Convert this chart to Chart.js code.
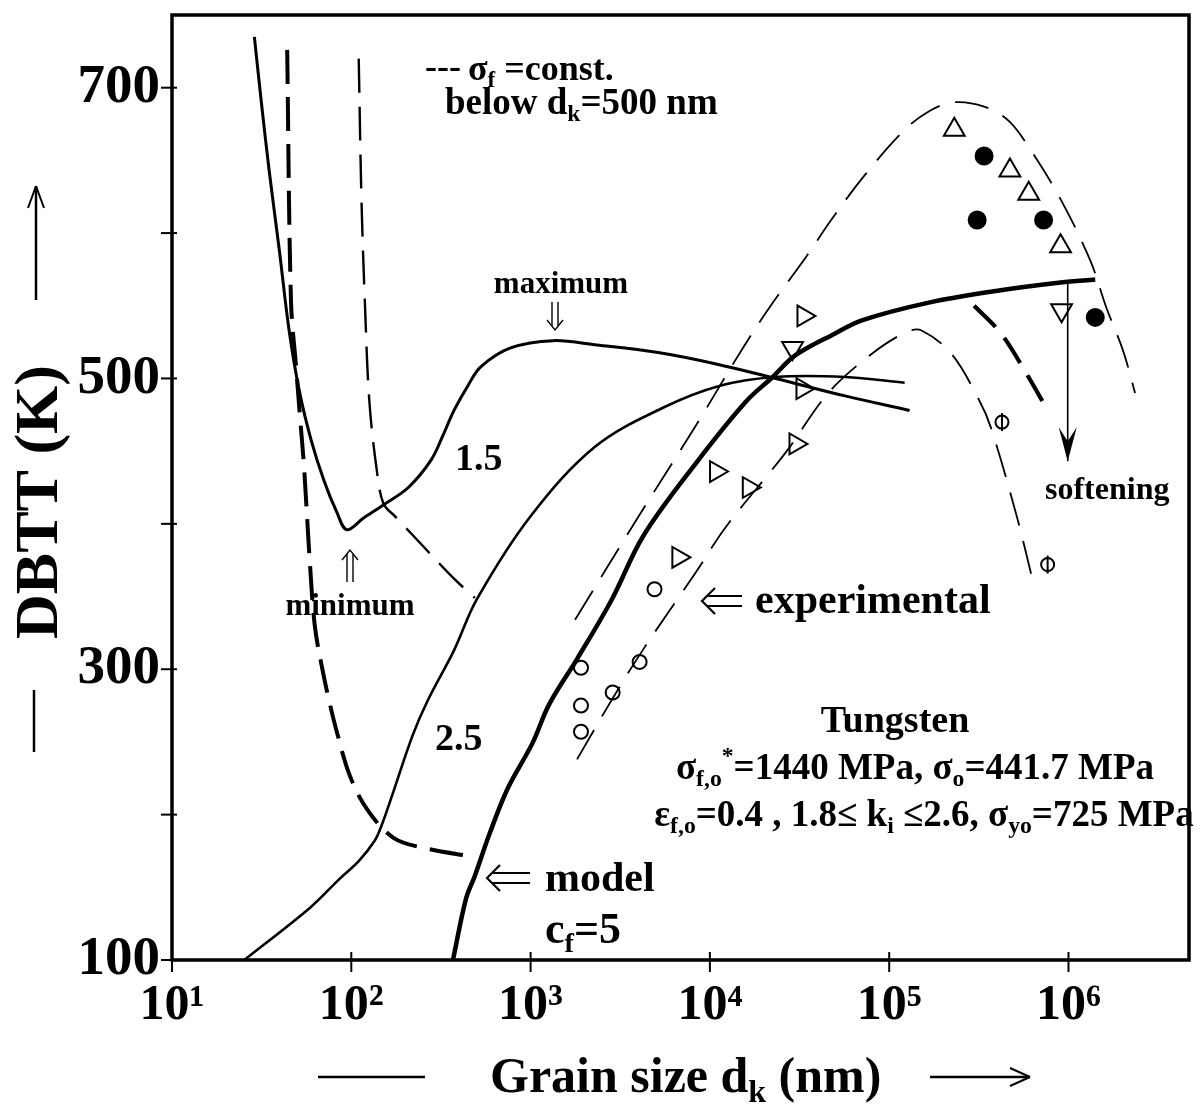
<!DOCTYPE html>
<html>
<head>
<meta charset="utf-8">
<script src="https://cdn.jsdelivr.net/npm/chart.js@4.4.1/dist/chart.umd.min.js"></script>
<style>
  html, body { margin: 0; padding: 0; background: #fff; }
  #wrap { width: 1203px; height: 1106px; }
</style>
</head>
<body>
<div id="wrap"><canvas id="c" width="1203" height="1106"></canvas></div>
<script>
// Grain size d_k in nm, DBTT in K.

// Model curve, k = 1.5
const k15Size = [28.8, 31.5, 34.9, 39.7, 45.0, 51.2, 59.6, 70.3, 83.0, 94.4, 117, 151, 208, 279, 325, 374, 447, 527, 773, 1337, 2344, 5039, 10820, 23270, 56730, 130000];
const k15Temp = [735, 690, 642, 588, 533, 492, 458, 430, 408, 396, 404, 413, 425, 444, 461, 478, 495, 508, 521, 526, 523, 518, 510, 500, 488, 478];

// Model curve, k = 2.5
const k25Size = [25.3, 58.9, 86.3, 110, 135, 147, 172, 219, 268, 374, 501, 997, 2286, 5508, 11400, 23270, 56730, 122000];
const k25Temp = [100, 136, 156, 168, 182, 192, 216, 254, 279, 313, 348, 405, 453, 480, 495, 501, 501, 497];

// Model curve, c_f = 5
const cf5Size = [369, 436, 489, 591, 745, 1023, 1271, 1815, 2838, 4266, 8390, 15860, 22390, 30020, 49950, 70460, 163700, 384400, 903000, 1410000];
const cf5Temp = [100, 142, 158, 187, 218, 249, 276, 307, 348, 392, 442, 484, 501, 516, 531, 540, 552, 560, 566, 568];

// sigma_f = const. below d_k = 500 nm (heavy dashes)
const constHeavySize = [43.9, 46.1, 49.2, 51.8, 54.5, 58.9, 62.7, 69.5, 75.0, 83.0, 98.0, 122, 172, 255, 476];
const constHeavyTemp = [726, 553, 508, 473, 439, 371, 329, 298, 279, 257, 227, 204, 184, 177, 171];

// sigma_f = const. branch of the k = 1.5 / 2.5 curves
const constMedSize = [110, 114, 119, 126, 138, 151, 176, 268, 369, 489];
const constMedTemp = [720, 622, 553, 485, 439, 414, 405, 381, 363, 349];

// softening branch (heavy dashes)
const softSize = [297700, 420000, 585000, 774000];
const softTemp = [550, 531, 503, 477];

// experimental trend lines (thin dashes)
const trendUpperSize = [1770, 3903, 8390, 15280, 21830, 34120, 48100, 73230, 122000, 167900, 230700, 338100, 465700, 623300, 915000, 1324000, 1623000, 2017000, 2351000];
const trendUpperTemp = [334, 403, 468, 521, 550, 583, 610, 640, 671, 684, 690, 687, 677, 656, 622, 581, 549, 519, 490];
const trendLowerSize = [1815, 2838, 4266, 8390, 12300, 26430, 45700, 80100, 125100, 151600, 222200, 317600, 369700, 515100, 623300];
const trendLowerTemp = [238, 279, 314, 367, 398, 449, 490, 517, 532, 533, 517, 485, 466, 405, 364];

// experimental points
const circleSize = [1910, 1910, 1910, 2870, 4055, 4910];
const circleTemp = [301, 275, 257, 284, 305, 355];
const barCircleSize = [425600, 765000];
const barCircleTemp = [470, 372];
const triRightSize = [33260, 32830, 30020, 16480, 10820, 6670];
const triRightTemp = [543, 493, 455, 425, 436, 377];
const triDownSize = [28910, 915000];
const triDownTemp = [521, 547];
const triUpSize = [230700, 471300, 600000, 903000];
const triUpTemp = [671, 643, 627, 591];
const dotSize = [338100, 309500, 726200, 1410000];
const dotTemp = [653, 609, 609, 542];

// softening arrow
const arrowSize = [990000, 990000];
const arrowTemp = [565, 443];

// axis ticks
const xTickValues = [1e1, 1e2, 1e3, 1e4, 1e5, 1e6];
const xTickLabels = ['10\u00B9', '10\u00B2', '10\u00B3', '10\u2074', '10\u2075', '10\u2076'];
const yTickValues = [100, 200, 300, 400, 500, 600, 700];
const yTickLabels = ['100', '', '300', '', '500', '', '700'];

const pts = (xs, ys) => xs.map((v, i) => ({ x: v, y: ys[i] }));
const SERIF = '"Liberation Serif", "Times New Roman", "DejaVu Serif", serif';

function lineSet(xs, ys, width, dash, tension) {
  return {
    data: pts(xs, ys), showLine: true, borderColor: '#000', borderWidth: width,
    borderDash: dash || [], pointRadius: 0, tension: tension === undefined ? 0.35 : tension,
    borderCapStyle: 'butt', fill: false
  };
}
function markSet(xs, ys, style, radius, rotation, filled, width) {
  return {
    data: pts(xs, ys), showLine: false, pointStyle: style, pointRadius: radius,
    rotation: rotation, borderColor: '#000', pointBorderWidth: width || 2,
    backgroundColor: filled ? '#000' : 'rgba(0,0,0,0)',
    pointBackgroundColor: filled ? '#000' : 'rgba(0,0,0,0)'
  };
}

// write a line of text with sub/superscript parts: [text, kind], kind '' | 'sub' | 'sup'
function rich(ctx, x, y, parts, size, align) {
  const widths = [];
  let total = 0;
  parts.forEach(([t, k]) => {
    const s = k ? size * 0.64 : size;
    ctx.font = `bold ${s}px ${SERIF}`;
    const w = ctx.measureText(t).width;
    widths.push(w); total += w;
  });
  let cx = align === 'center' ? x - total / 2 : (align === 'right' ? x - total : x);
  ctx.textAlign = 'left';
  ctx.textBaseline = 'alphabetic';
  parts.forEach(([t, k], i) => {
    const s = k ? size * 0.64 : size;
    ctx.font = `bold ${s}px ${SERIF}`;
    const dy = k === 'sub' ? size * 0.2 : (k === 'sup' ? -size * 0.42 : 0);
    ctx.fillText(t, cx, y + dy);
    cx += widths[i];
  });
}

function seg(ctx, x1, y1, x2, y2) {
  ctx.beginPath(); ctx.moveTo(x1, y1); ctx.lineTo(x2, y2); ctx.stroke();
}

// open double-shafted arrow pointing left, tip at (x, y)
function dblLeft(ctx, x, y, len) {
  seg(ctx, x + 6, y - 5, x + len, y - 5);
  seg(ctx, x + 6, y + 5, x + len, y + 5);
  ctx.beginPath();
  ctx.moveTo(x + 13, y - 13); ctx.lineTo(x, y); ctx.lineTo(x + 13, y + 13);
  ctx.stroke();
}
// thin double-shafted vertical arrow, tip at (x, y), dir -1 up / +1 down
function dblVert(ctx, x, y, len, dir) {
  seg(ctx, x - 3, y - dir * 4, x - 3, y - dir * len);
  seg(ctx, x + 3, y - dir * 4, x + 3, y - dir * len);
  ctx.beginPath();
  ctx.moveTo(x - 8, y - dir * 10); ctx.lineTo(x, y); ctx.lineTo(x + 8, y - dir * 10);
  ctx.stroke();
}

const decor = {
  id: 'decor',
  afterDraw(chart) {
    const { ctx, chartArea: a, scales: { x, y } } = chart;
    ctx.save();
    ctx.strokeStyle = '#000';
    ctx.fillStyle = '#000';
    ctx.setLineDash([]);

    // frame
    ctx.lineWidth = 3.5;
    ctx.strokeRect(a.left, a.top, a.right - a.left, a.bottom - a.top);

    // tick marks
    ctx.lineWidth = 2;
    yTickValues.forEach(v => { const py = y.getPixelForValue(v); seg(ctx, a.left - 11, py, a.left + 5, py); });
    xTickValues.forEach(v => { const px = x.getPixelForValue(v); seg(ctx, px, a.bottom - 8, px, a.bottom + 12); });

    // softening arrow head
    const ax = x.getPixelForValue(arrowSize[1]);
    const ay = y.getPixelForValue(arrowTemp[1]);
    ctx.beginPath();
    ctx.moveTo(ax, ay);
    ctx.lineTo(ax - 9, ay - 34);
    ctx.lineTo(ax, ay - 20);
    ctx.lineTo(ax + 9, ay - 34);
    ctx.closePath();
    ctx.fill();

    // y axis title
    ctx.save();
    ctx.translate(57, 502);
    ctx.rotate(-Math.PI / 2);
    ctx.font = `bold 62px ${SERIF}`;
    ctx.textAlign = 'center';
    ctx.textBaseline = 'alphabetic';
    ctx.fillText('DBTT (K)', 0, 0);
    ctx.restore();
    ctx.lineWidth = 2.5;
    seg(ctx, 34, 690, 34, 752);
    seg(ctx, 36, 300, 36, 186);
    ctx.lineWidth = 2;
    seg(ctx, 36, 186, 28, 208);
    seg(ctx, 36, 186, 44, 208);

    // x axis title
    ctx.lineWidth = 2.5;
    seg(ctx, 318, 1077, 425, 1077);
    rich(ctx, 490, 1092, [['Grain size d', ''], ['k', 'sub'], [' (nm)', '']], 50, 'left');
    seg(ctx, 930, 1077, 1030, 1077);
    ctx.lineWidth = 2;
    seg(ctx, 1030, 1077, 1010, 1068);
    seg(ctx, 1030, 1077, 1010, 1086);

    // annotations
    rich(ctx, 425, 78, [['---', '']], 36, 'left');
    rich(ctx, 468, 80, [['\u03C3', ''], ['f', 'sub'], [' =const.', '']], 36, 'left');
    rich(ctx, 445, 114, [['below d', ''], ['k', 'sub'], ['=500 nm', '']], 37, 'left');
    rich(ctx, 561, 293, [['maximum', '']], 31, 'center');
    rich(ctx, 350, 615, [['minimum', '']], 31, 'center');
    rich(ctx, 1045, 499, [['softening', '']], 32, 'left');
    rich(ctx, 455, 470, [['1.5', '']], 38, 'left');
    rich(ctx, 435, 750, [['2.5', '']], 38, 'left');
    rich(ctx, 755, 613, [['experimental', '']], 42, 'left');
    rich(ctx, 545, 891, [['model', '']], 42, 'left');
    rich(ctx, 545, 943, [['c', ''], ['f', 'sub'], ['=5', '']], 44, 'left');
    rich(ctx, 895, 732, [['Tungsten', '']], 38, 'center');
    rich(ctx, 915, 779, [['\u03C3', ''], ['f,o', 'sub'], ['*', 'sup'], ['=1440 MPa, \u03C3', ''], ['o', 'sub'], ['=441.7 MPa', '']], 37, 'center');
    rich(ctx, 924, 826, [['\u03B5', ''], ['f,o', 'sub'], ['=0.4 , 1.8\u2264 k', ''], ['i', 'sub'], [' \u22642.6, \u03C3', ''], ['yo', 'sub'], ['=725 MPa', '']], 37, 'center');

    // arrows pointing at features
    ctx.lineWidth = 2.2;
    dblLeft(ctx, 702, 601, 40);
    dblLeft(ctx, 487, 878, 43);
    ctx.lineWidth = 1.4;
    dblVert(ctx, 555, 330, 28, 1);
    dblVert(ctx, 350, 550, 32, -1);

    ctx.restore();
  }
};

new Chart(document.getElementById('c'), {
  type: 'scatter',
  data: {
    datasets: [
      lineSet(k15Size, k15Temp, 3),
      lineSet(k25Size, k25Temp, 2.6),
      lineSet(cf5Size, cf5Temp, 4.5),
      lineSet(constHeavySize, constHeavyTemp, 4, [34, 13]),
      lineSet(constMedSize, constMedTemp, 2.4, [34, 14]),
      lineSet(softSize, softTemp, 4.2, [30, 14]),
      lineSet(trendUpperSize, trendUpperTemp, 1.8, [34, 16]),
      lineSet(trendLowerSize, trendLowerTemp, 1.8, [34, 16]),
      lineSet(arrowSize, arrowTemp, 1.6, [], 0),
      markSet(circleSize, circleTemp, 'circle', 7, 0, false),
      markSet(barCircleSize, barCircleTemp, 'circle', 6.5, 0, false),
      markSet(barCircleSize, barCircleTemp, 'line', 9, 90, false),
      markSet(triRightSize, triRightTemp, 'triangle', 12, 90, false),
      markSet(triDownSize, triDownTemp, 'triangle', 12, 180, false),
      markSet(triUpSize, triUpTemp, 'triangle', 12, 0, false),
      markSet(dotSize, dotTemp, 'circle', 8.5, 0, true)
    ]
  },
  options: {
    responsive: false,
    animation: false,
    devicePixelRatio: 1,
    layout: { padding: { top: 15, right: 3, left: 0, bottom: 0 } },
    plugins: { legend: { display: false }, tooltip: { enabled: false } },
    events: [],
    scales: {
      x: {
        type: 'logarithmic',
        min: 10,
        max: 4.7e6,
        grid: { display: false, drawTicks: false },
        border: { display: false },
        afterBuildTicks: s => { s.ticks = xTickValues.map(v => ({ value: v })); },
        afterFit: s => { s.height = 146; s.paddingLeft = 0; s.paddingRight = 0; },
        ticks: {
          autoSkip: false, maxRotation: 0, minRotation: 0, padding: 16, color: '#000',
          font: { family: SERIF, size: 50, weight: 'bold' },
          callback: (v, i) => xTickLabels[i]
        }
      },
      y: {
        type: 'linear',
        min: 100,
        max: 750,
        grid: { display: false, drawTicks: false },
        border: { display: false },
        afterBuildTicks: s => { s.ticks = yTickValues.map(v => ({ value: v })); },
        afterFit: s => { s.width = 172; s.paddingTop = 0; s.paddingBottom = 0; },
        ticks: {
          autoSkip: false, padding: 12, color: '#000',
          font: { family: SERIF, size: 55, weight: 'bold' },
          callback: (v, i) => yTickLabels[i]
        }
      }
    }
  },
  plugins: [decor]
});
</script>
</body>
</html>
